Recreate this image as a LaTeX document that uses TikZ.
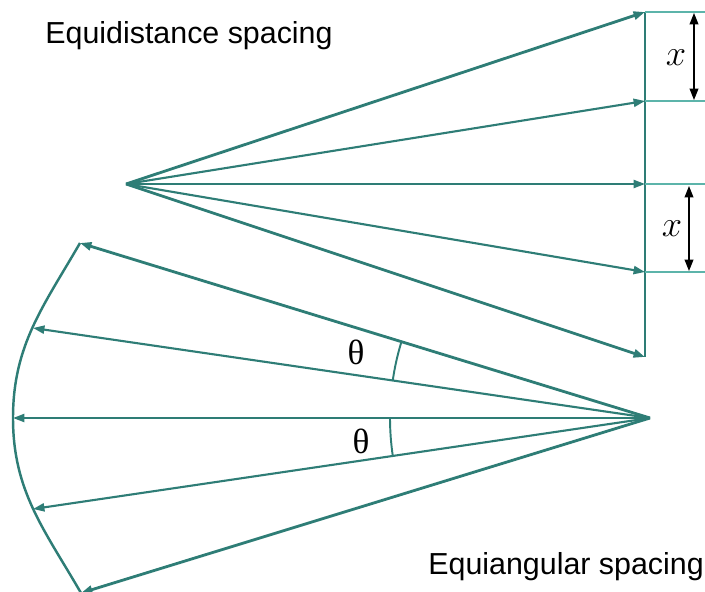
\documentclass[tikz,border=0pt]{standalone}
\usepackage{fontspec}
\setmainfont{Liberation Sans}
\newfontfamily\thetafont{Liberation Serif}
\usepackage{xcolor}
\usetikzlibrary{arrows.meta, calc}
\definecolor{rayteal}{RGB}{46,125,118}
\definecolor{ticklight}{RGB}{92,180,170}
\tikzstyle{ray} = [draw=rayteal, line width=1.2pt, -{Triangle[length=6.5pt, width=4.6pt]}]
\tikzstyle{outerray} = [ray, line width=1.6pt]
\tikzstyle{screen} = [draw=rayteal, line width=1.5pt]
\tikzstyle{tickline} = [draw=ticklight, line width=0.9pt]
\tikzstyle{dimarrow} = [draw=black, line width=0.8pt, {Triangle[length=6.5pt, width=5pt]}-{Triangle[length=6.5pt, width=5pt]}]
\tikzstyle{anglemark} = [draw=rayteal, line width=1.1pt]
\tikzstyle{caption} = [inner sep=0pt, anchor=base west, font=\fontsize{17.3}{20}\selectfont]
\tikzstyle{symlabel} = [inner sep=0pt, font=\fontsize{20}{22}\selectfont]

\begin{document}
\begin{tikzpicture}[x=0.02cm, y=0.02cm]
    \useasboundingbox (0,0) rectangle (705,-591);

    % equidistance fan
    \coordinate (src) at (126,-184);
    \coordinate (t0) at (645,-12);
    \coordinate (t1) at (645,-101);
    \coordinate (t2) at (645,-184);
    \coordinate (t3) at (645,-272);
    \coordinate (t4) at (645,-357);
    \coordinate (k0) at (705,-12);
    \coordinate (k1) at (705,-101);
    \coordinate (k2) at (705,-184);
    \coordinate (k3) at (705,-272);

    \draw [screen] (t0) -- (t4);
    \draw [tickline] (t0) -- (k0);
    \draw [tickline] (t1) -- (k1);
    \draw [tickline] (t2) -- (k2);
    \draw [tickline] (t3) -- (k3);

    \draw [outerray] (src) -- (t0);
    \draw [ray] (src) -- (t1);
    \draw [ray] (src) -- (t2);
    \draw [ray] (src) -- (t3);
    \draw [outerray] (src) -- (t4);

    \coordinate (da0) at (694,-13);
    \coordinate (da1) at (694,-100);
    \coordinate (db0) at (689,-186);
    \coordinate (db1) at (689,-271);
    \draw [dimarrow] (da0) -- (da1);
    \draw [dimarrow] (db0) -- (db1);
    \node (xa) [symlabel] at (676,-58) {$x$};
    \node (xb) [symlabel] at (672,-229) {$x$};

    % equiangular fan
    \coordinate (S) at (650,-418);
    \coordinate (b0) at (80,-243);
    \coordinate (b1) at (33,-328);
    \coordinate (b2) at (13,-418);
    \coordinate (b3) at (33,-509);
    \coordinate (b4) at (81,-593);

    \draw [screen, line width=1.4pt] (b0) to[out=240, in=90] (b2) to[out=270, in=120] (b4);

    \draw [outerray] (S) -- (b0);
    \draw [ray] (S) -- (b1);
    \draw [ray] (S) -- (b2);
    \draw [ray] (S) -- (b3);
    \draw [outerray] (S) -- (b4);

    \draw [anglemark] ([shift={(163:260)}]S) arc [start angle=163, end angle=171.7, radius=260];
    \draw [anglemark] ([shift={(180:260)}]S) arc [start angle=180, end angle=188.4, radius=260];
    \node (tha) [symlabel, font=\fontsize{20}{22}\selectfont\thetafont] at (356,-352) {θ};
    \node (thb) [symlabel, font=\fontsize{20}{22}\selectfont\thetafont] at (361,-441) {θ};

    \node (topcap) [caption] at (45,-44) {Equidistance spacing};
    \node (botcap) [caption] at (428,-574) {Equiangular spacing};
\end{tikzpicture}
\end{document}
